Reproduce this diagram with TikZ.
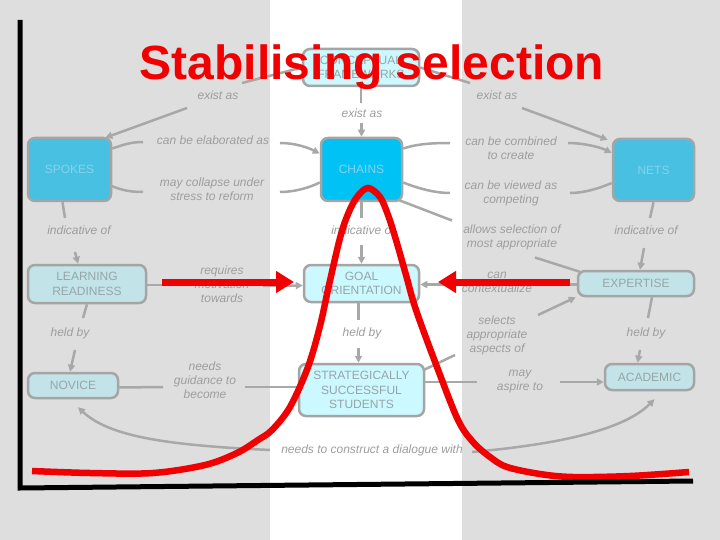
\documentclass[tikz,border=0pt]{standalone}
\usepackage{fontspec}
\setmainfont{Liberation Sans}
\usetikzlibrary{arrows.meta,calc}
\definecolor{bggray}{RGB}{222,222,222}
\definecolor{conngray}{RGB}{168,168,168}
\definecolor{bord}{RGB}{165,165,165}
\definecolor{ltext}{RGB}{158,158,158}
\definecolor{ntext}{RGB}{150,165,168}
\definecolor{btext}{RGB}{135,210,235}
\definecolor{cyanlight}{RGB}{204,248,255}
\definecolor{tealight}{RGB}{194,228,232}
\definecolor{midblue}{RGB}{72,192,226}
\definecolor{brightblue}{RGB}{0,194,245}
\definecolor{titlered}{RGB}{240,0,0}
\begin{document}
\begin{tikzpicture}[x=1pt,y=-1pt,
  box/.style={draw=bord, line width=2.5pt, rounded corners=7pt, align=center,
    font=\fontsize{12}{14.5}\selectfont, inner sep=0pt, text=ntext},
  lab/.style={font=\fontsize{12}{14}\selectfont\itshape, text=ltext, align=center, inner sep=2pt},
  conn/.style={draw=conngray, line width=2.5pt},
  arr/.style={conn, -{Triangle[length=7pt,width=7pt]}},
  redarr/.style={draw=titlered, line width=7pt, -{Triangle[length=18pt,width=21pt]}}]
\useasboundingbox (0,0) rectangle (720,540);
\fill[bggray] (0,0) rectangle (720,540);
\fill[white] (270,0) rectangle (462,540);

% boxes
\node[box, fill=cyanlight, minimum width=116pt, minimum height=37pt] (cf) at (361,67.5) {CONCEPTUAL\\FRAMEWORKS};
\node[box, fill=midblue, text=btext, minimum width=83pt, minimum height=63pt] (spokes) at (69.5,169.5) {SPOKES};
\node[box, fill=brightblue, text=btext, minimum width=81pt, minimum height=63pt] (chains) at (361.5,169.5) {CHAINS};
\node[box, fill=midblue, text=btext, minimum width=81pt, minimum height=62pt] (nets) at (653.5,170) {NETS};
\node[box, fill=tealight, minimum width=118pt, minimum height=38pt] (lr) at (87,284) {LEARNING\\READINESS};
\node[box, fill=cyanlight, minimum width=115pt, minimum height=37pt] (goal) at (361.5,283.5) {GOAL\\ORIENTATION};
\node[box, fill=tealight, minimum width=116pt, minimum height=25pt] (exp) at (636,283.5) {EXPERTISE};
\node[box, fill=tealight, minimum width=90pt, minimum height=25pt] (novice) at (73,385.5) {NOVICE};
\node[box, fill=cyanlight, minimum width=125pt, minimum height=52pt] (sss) at (361.5,390) {STRATEGICALLY\\SUCCESSFUL\\STUDENTS};
\node[box, fill=tealight, minimum width=89pt, minimum height=26pt] (acad) at (649.5,377) {ACADEMIC};

% labels
\node[lab] (lex1) at (218,95) {exist as};
\node[lab] (lex2) at (362,113) {exist as};
\node[lab] (lex3) at (497,95) {exist as};
\node[lab] (lelab) at (213,140) {can be elaborated as};
\node[lab] (lcoll) at (212,189) {may collapse under\\stress to reform};
\node[lab] (lcomb) at (511,148) {can be combined\\to create};
\node[lab] (lview) at (511,193) {can be viewed as\\competing};
\node[lab] (lallow) at (512,237.5) {allows selection of\\most appropriate};
\node[lab] (lind1) at (79,230) {indicative of};
\node[lab] (lind2) at (363,230) {indicative of};
\node[lab] (lind3) at (646,230) {indicative of};
\node[lab] (lreq) at (222,284) {requires\\motivation\\towards};
\node[lab] (lctx) at (497,282.5) {can\\contextualize};
\node[lab] (lheld1) at (70,333) {held by};
\node[lab] (lheld2) at (362,333) {held by};
\node[lab] (lheld3) at (646,333) {held by};
\node[lab] (lsel) at (497,335) {selects\\appropriate\\aspects of};
\node[lab] (lguid) at (205,380) {needs\\guidance to\\become};
\node[lab] (lasp) at (520,382) {may\\aspire to};
\node[lab] (ldlg) at (372,450) {needs to construct a dialogue with};

% connectors
\draw[conn] (cf.west) -- ($(lex1)+(24,-12)$);
\draw[arr] ($(lex1)+(-31,13)$) -- ($(spokes.north east)+(-7,1)$);
\draw[conn] (cf.east) -- ($(lex3)+(-27,-12)$);
\draw[arr] ($(lex3)+(25,13)$) -- ($(nets.north west)+(-4,2)$);
\draw[conn] (cf.south) -- ($(cf.south|-lex2)+(0,-10)$);
\draw[arr] ($(chains.north|-lex2)+(0,10)$) -- (chains.north);
\draw[conn] ($(spokes.east)+(0,-21)$) .. controls +(12,-4) and +(-12,0) .. ($(lelab)+(-70,2)$);
\draw[arr] ($(lelab)+(67,3)$) .. controls +(15,0) and +(-12,-6) .. ($(chains.west)+(0,-16)$);
\draw[conn] ($(spokes.east)+(-2,16)$) .. controls +(12,5) and +(-12,0) .. ($(lcoll)+(-69,3)$);
\draw[conn] ($(lcoll)+(68,3)$) .. controls +(15,0) and +(-10,5) .. ($(chains.west)+(0,13)$);
\draw[conn] ($(chains.east)+(0,-21)$) .. controls +(15,-5) and +(-15,0) .. ($(lcomb)+(-61,-5)$);
\draw[arr] ($(lcomb)+(57,-5)$) .. controls +(15,0) and +(-12,-6) .. ($(nets.west)+(0,-17)$);
\draw[conn] ($(chains.east)+(0,13)$) .. controls +(15,6) and +(-15,0) .. ($(lview)+(-61,0)$);
\draw[conn] ($(lview)+(59,0)$) .. controls +(15,0) and +(-12,5) .. ($(nets.west)+(0,13)$);
\draw[conn] ($(chains.south east)+(-4,-2)$) -- ($(lallow)+(-60,-17)$);
\draw[conn] ($(lallow)+(23,20)$) -- ($(exp.north west)+(3,2)$);
\draw[conn] ($(spokes.south)+(-7,0)$) -- ($(lind1)+(-14,-12)$);
\draw[arr] ($(lind1)+(-4,22)$) -- ($(lr.north)+(-9,0)$);
\draw[conn] (chains.south) -- ($(chains.south|-lind2)+(0,-12)$);
\draw[arr] ($(goal.north|-lind2)+(0,15)$) -- (goal.north);
\draw[conn] (nets.south) -- ($(lind3)+(4,-12)$);
\draw[arr] ($(lind3)+(-2,18)$) -- ($(exp.north)+(4,0)$);
\draw[conn] ($(lr.east)+(0,1)$) -- ($(lreq)+(-45,1)$);
\draw[arr] ($(lreq)+(41,2)$) -- ($(goal.west)+(0,2)$);
\draw[conn] ($(exp.west)+(0,1)$) -- ($(lctx)+(45,2)$);
\draw[arr] ($(lctx)+(-37,2)$) -- ($(goal.east)+(0,1)$);
\draw[conn] ($(sss.north east)+(-1,7)$) -- ($(lsel)+(-42,20)$);
\draw[arr] ($(lsel)+(41,-20)$) -- ($(exp.south west)+(-1,0)$);
\draw[conn] ($(sss.east)+(0,-8)$) -- ($(lasp)+(-43,0)$);
\draw[arr] ($(lasp)+(40,0)$) -- ($(acad.west)+(0,5)$);
\draw[conn] ($(novice.east)+(0,2)$) -- ($(lguid)+(-42,7)$);
\draw[conn] ($(lguid)+(40,7)$) -- ($(sss.west)+(0,-3)$);
\draw[conn] (lr.south) -- ($(lheld1)+(13,-15)$);
\draw[arr] ($(lheld1)+(5,17)$) -- ($(novice.north)+(-3,0)$);
\draw[conn] ($(goal.south)+(-3,0)$) -- ($(goal.south|-lheld2)+(-3,-13)$);
\draw[arr] ($(sss.north|-lheld2)+(-3,15)$) -- ($(sss.north)+(-3,0)$);
\draw[conn] ($(exp.south)+(16,0)$) -- ($(lheld3)+(2,-15)$);
\draw[arr] ($(lheld3)+(-6,17)$) -- ($(acad.north)+(-12,0)$);
\draw[arr] ($(ldlg)+(-102,0)$) .. controls +(-110,-5) and +(30,28) .. ($(novice.south)+(5,8)$);
\draw[arr] ($(ldlg)+(100,2)$) .. controls +(90,-8) and +(-30,30) .. ($(acad.south)+(5,8)$);

% red bell curve
\draw[titlered, line width=6.5pt] plot[smooth, tension=0.55] coordinates {
 (32,471) (90,473) (153,473) (205,465) (237,453) (258,440) (272,430) (290,407)
 (308,367) (320,326) (329,285) (340,238) (348,214) (357,197) (368,188) (380,197)
 (388,215) (396,240) (406,275) (416,310) (437,367) (458,420) (473,442) (490,457)
 (507,467) (540,474) (573,477) (630,476) (689,472)};

% red arrows
\coordinate (ra1s) at (162,282);
\coordinate (ra1e) at (294,282);
\coordinate (ra2s) at (570,282);
\coordinate (ra2e) at (438,282);
\draw[redarr] (ra1s) -- (ra1e);
\draw[redarr] (ra2s) -- (ra2e);

% title
\node[font=\fontsize{48}{50}\selectfont\bfseries, text=titlered, anchor=base, inner sep=0pt] (title) at (372,80) {Stabilising selection};

% axes
\draw[black, line width=5pt] (20,20) -- (20,488) -- (693,481);
\end{tikzpicture}
\end{document}
